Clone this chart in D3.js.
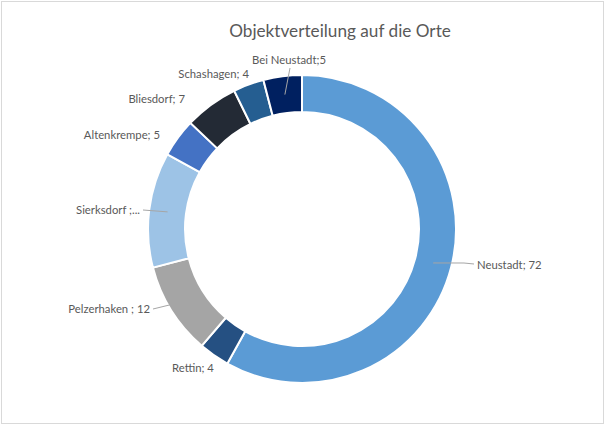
<!DOCTYPE html>
<html><head><meta charset="utf-8">
<script src="https://cdn.jsdelivr.net/npm/d3@7"></script>
<style>body{margin:0;background:#fff}svg{display:block}</style>
</head><body>
<svg id="c" width="606" height="438"></svg>
<script>
const categories = ["Neustadt","Rettin","Pelzerhaken","Sierksdorf","Altenkrempe","Bliesdorf","Schashagen","Bei Neustadt"];
const values = [72,4,12,15,5,7,4,5];
const labels = ["Neustadt; 72","Rettin; 4","Pelzerhaken ; 12","Sierksdorf ;...","Altenkrempe; 5","Bliesdorf; 7","Schashagen; 4","Bei Neustadt;5"];
const colors = ["#5B9BD5","#255082","#A5A5A5","#9DC3E6","#4472C4","#232A35","#255E91","#002060"];
const title = "Objektverteilung auf die Orte";

const svg = d3.select("#c");
svg.append("rect").attr("x",1.5).attr("y",1.5).attr("width",602).attr("height",422)
  .attr("fill","#fff").attr("stroke","#d9d9d9").attr("stroke-width",1);
svg.append("text").attr("x",340).attr("y",37).attr("text-anchor","middle")
  .attr("font-family","Lato, 'Open Sans', sans-serif").attr("font-size",17.2).attr("fill","#595959").text(title);

const cx = 302, cy = 229, R = 154, r = 117;
const data = categories.map((c,i)=>({c, v:values[i], col:colors[i], lab:labels[i]}));
const pie = d3.pie().value(d=>d.v).sort(null);
const arcs = pie(data);
const arc = d3.arc().innerRadius(r).outerRadius(R);
const g = svg.append("g").attr("transform",`translate(${cx},${cy})`);
g.selectAll("path").data(arcs).join("path").attr("d",arc)
  .attr("fill",d=>d.data.col).attr("stroke","#fff").attr("stroke-width",2);

const labelPos = {
  "Neustadt": {x:477, y:269, anchor:"start", line:true},
  "Rettin": {x:172, y:372, anchor:"start", line:false},
  "Pelzerhaken": {x:150, y:313, anchor:"end", line:true},
  "Sierksdorf": {x:140, y:214, anchor:"end", line:true},
  "Altenkrempe": {x:160, y:139, anchor:"end", line:false},
  "Bliesdorf": {x:185, y:103, anchor:"end", line:false},
  "Schashagen": {x:249, y:78, anchor:"end", line:false},
  "Bei Neustadt": {x:326, y:64, anchor:"end", line:true}
};
const mid = d3.arc().innerRadius((R+r)/2).outerRadius((R+r)/2);
arcs.forEach(a=>{
  const p = labelPos[a.data.c];
  const [mx,my] = mid.centroid(a);
  if (p.line) {
    let lx, ly;
    if (a.data.c==="Neustadt") { lx = p.x-3; ly = p.y-5; }
    else if (a.data.c==="Bei Neustadt") { lx = 290; ly = p.y+4; }
    else { lx = p.x+3; ly = p.y-4; }
    svg.append("polyline")
      .attr("points", a.data.c==="Neustadt" ? `${cx+mx},${cy+my} ${lx-10},${ly-1} ${lx},${ly}` : `${cx+mx},${cy+my} ${lx},${ly}`)
      .attr("fill","none").attr("stroke","#a6a6a6").attr("stroke-width",1);
  }
  svg.append("text").attr("x",p.x).attr("y",p.y).attr("text-anchor",p.anchor)
    .attr("font-family","Lato, 'Open Sans', sans-serif").attr("font-size",11.3).attr("fill","#595959")
    .text(a.data.lab);
});
</script>
</body></html>
